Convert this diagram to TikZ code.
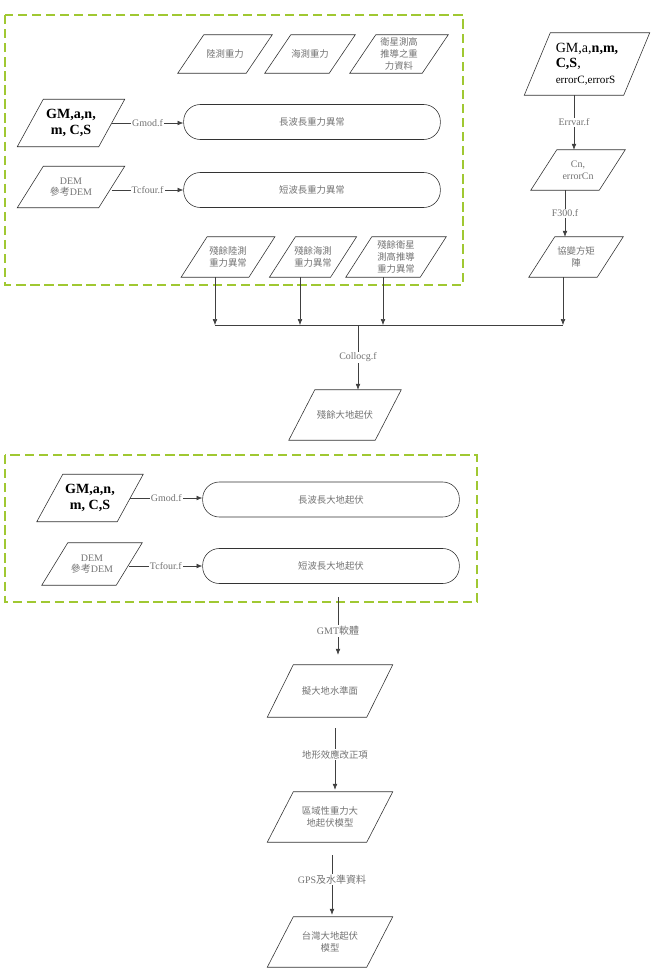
\documentclass[tikz,border=0pt]{standalone}
\usepackage{fontspec}
\setmainfont{Liberation Serif}
\newfontfamily\cjk{Noto Sans CJK TC}
\usetikzlibrary{arrows.meta}

\definecolor{groupgreen}{RGB}{160,200,50}
\def\cjkfont{\cjk\fontsize{8}{10}\selectfont}
\def\lblfont{\fontsize{8.5}{10}\selectfont}
\def\dslant{0.78cm}
% data box: [options](name)(position:width:height){text}
\def\datanode[#1](#2)(#3:#4:#5)#6{%
  \node[datatext, minimum width=#4, minimum height=#5, #1] (#2) at (#3) {#6};
  \draw[databorder] ([xshift=\dslant]#2.north west) -- (#2.north east) -- ([xshift=-\dslant]#2.south east) -- (#2.south west) -- cycle;
  \coordinate (#2 top) at ([xshift=0.5*\dslant]#2.north);
  \coordinate (#2 bot) at ([xshift=-0.5*\dslant]#2.south);
  \coordinate (#2 right) at ([xshift=-0.5*\dslant]#2.east);
}

\tikzset{
  datatext/.style={rectangle, inner sep=1pt, align=center, text=black!55, font=\cjkfont},
  databorder/.style={draw=black!80, line width=0.5pt},
  coef/.style={text=black, font=\fontsize{12}{13}\selectfont\bfseries},
  proc/.style={rectangle, rounded corners=0.5cm, draw=black!80, line width=0.5pt,
    minimum width=7.7cm, minimum height=1.05cm, text=black!55, font=\cjkfont},
  lbl/.style={fill=white, text=black!55, inner sep=1pt, font=\lblfont},
  flow/.style={draw=black!75, line width=0.5pt, -{Latex[length=5pt,width=4pt]}},
  link/.style={draw=black!75, line width=0.5pt},
  group/.style={draw=groupgreen, line width=1.5pt, dash pattern=on 8pt off 4pt}
}

\begin{document}
\begin{tikzpicture}[x=0.03cm, y=-0.03cm]
			\useasboundingbox (0,0) rectangle (651,980);
			
			%%%%% GRAVITY %%%%%
			\draw[group] (5,15) rectangle (463,285);
			
			\datanode[](land)(225,54:2.82cm:1.14cm){陸測重力}
			\datanode[](sea)(310,54:2.7cm:1.14cm){海測重力}
			\datanode[](sat)(399,54:2.94cm:1.14cm){衛星測高\\推導之重\\力資料}
			
			\datanode[coef](gmA)(71,123:3.21cm:1.41cm){GM,a,n,\\m, C,S}
			\datanode[font=\lblfont](demA)(71,187:3.21cm:1.23cm){DEM\\{\cjk 參考}DEM}
			
			\node[proc] (longA) at (312,122) {長波長重力異常};
			\node[proc] (shortA) at (312,190) {短波長重力異常};
			
			\draw[flow] (gmA right) -- node[lbl] {Gmod.f} (gmA right -| longA.west);
			\draw[flow] (demA right |- shortA.west) -- node[lbl] {Tcfour.f} (shortA.west);
			
			\datanode[](resL)(228,257:2.8cm:1.2cm){殘餘陸測\\重力異常}
			\datanode[](resS)(313,257:2.6cm:1.2cm){殘餘海測\\重力異常}
			\datanode[](resT)(396,257:3cm:1.2cm){殘餘衛星\\測高推導\\重力異常}
			
			%%%%% COVARIANCE %%%%%
			\datanode[align=left, text=black, font=\fontsize{12}{13}\selectfont](gmB)(587,64:3.75cm:1.86cm)
			  {GM,a,\textbf{n,m,}\\\textbf{C,S},\\{\fontsize{9.5}{11}\selectfont errorC,errorS}}
			\datanode[font=\lblfont](cn)(578,170:2.82cm:1.2cm){Cn,\\errorCn}
			\datanode[](cov)(576,257:2.82cm:1.2cm){協變方矩\\陣}
			
			\draw[flow] (gmB bot) -- node[lbl] {Errvar.f} (gmB bot |- cn.north);
			\draw[flow] (cn bot) -- node[lbl] {F300.f} (cn bot |- cov.north);
			
			%%%%% COLLOCATION %%%%%
			\coordinate (junc) at (358,325);
			\foreach \n in {resL,resS,resT,cov}
			  \draw[flow] (\n\space bot) -- (\n\space bot |- junc);
			\draw[link] (resL bot |- junc) -- (cov bot |- junc);
			
			\datanode[](resN)(345,415:3.36cm:1.5cm){殘餘大地起伏}
			\draw[flow] (junc) -- node[lbl] {Collocg.f} (junc |- resN.north);
			
			%%%%% GEOID %%%%%
			\draw[group] (5,455) rectangle (477,602);
			
			\datanode[coef](gmC)(90,498:3.18cm:1.41cm){GM,a,n,\\m, C,S}
			\datanode[font=\lblfont](demC)(92,564:3cm:1.26cm){DEM\\{\cjk 參考}DEM}
			
			\node[proc] (longC) at (331,499.5) {長波長大地起伏};
			\node[proc] (shortC) at (331,566) {短波長大地起伏};
			
			\draw[flow] (gmC right) -- node[lbl] {Gmod.f} (gmC right -| longC.west);
			\draw[flow] (demC right |- shortC.west) -- node[lbl] {Tcfour.f} (shortC.west);
			
			\coordinate (gout) at (338,597);
			\datanode[](geoid)(330,691:3.75cm:1.56cm){擬大地水準面}
			\datanode[](regional)(330,817:3.75cm:1.5cm){區域性重力大\\地起伏模型}
			\datanode[](taiwan)(330,942:3.75cm:1.5cm){台灣大地起伏\\模型}
			
			\draw[flow, shorten >=0.3cm] (gout) -- node[lbl] {GMT{\cjk 軟體}} (gout |- geoid.north);
			\draw[flow, shorten <=0.33cm, shorten >=0.06cm] (geoid.south -| 335,0) -- node[lbl, font=\cjkfont] {地形效應改正項} (regional.north -| 335,0);
			\draw[flow, shorten <=0.39cm, shorten >=0.06cm] (regional.south -| 332,0) -- node[lbl] {GPS{\cjk 及水準資料}} (taiwan.north -| 332,0);
			
			%%%%% END %%%%%
		\end{tikzpicture}
\end{document}
